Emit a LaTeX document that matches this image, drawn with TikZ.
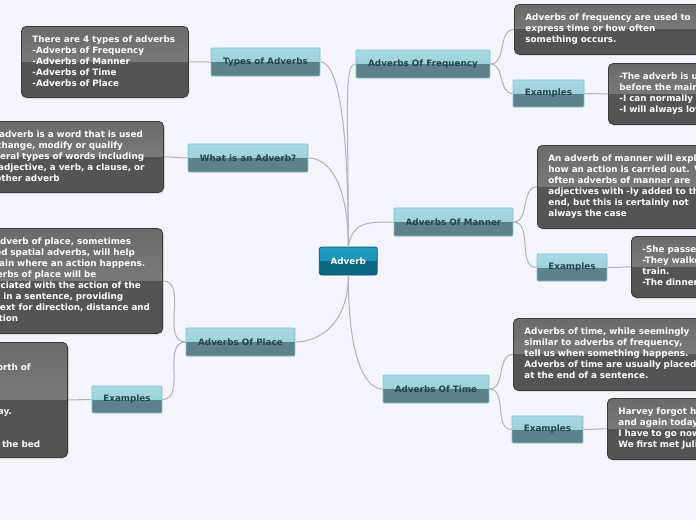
\documentclass[tikz,border=0pt]{standalone}
\usepackage{fontspec}
\setmainfont{DejaVu Sans}
\usetikzlibrary{shadows}
\definecolor{bg}{HTML}{F3F4FC}
\definecolor{conncol}{HTML}{B3B3B3}
\definecolor{boxtopa}{HTML}{6A6A6A}
\definecolor{boxtopb}{HTML}{888888}
\definecolor{boxbot}{HTML}{545454}
\definecolor{boxline}{HTML}{3A3A3A}
\definecolor{brtopa}{HTML}{A8DAE5}
\definecolor{brtopb}{HTML}{92C9D5}
\definecolor{brbot}{HTML}{5D8189}
\definecolor{brline}{HTML}{86BFCC}
\definecolor{brtext}{HTML}{27424A}
\definecolor{ctopa}{HTML}{22A0C2}
\definecolor{ctopb}{HTML}{1689AB}
\definecolor{cbot}{HTML}{0B6780}
\definecolor{cline}{HTML}{0A566C}
\tikzset{
  twotone/.style n args={3}{path picture={
    \shade[sharp corners, top color=#1, bottom color=#2] ([yshift=1pt]path picture bounding box.north west) rectangle ([xshift=1pt]path picture bounding box.east);
    \fill[sharp corners, #3] ([xshift=-1pt]path picture bounding box.west) rectangle ([yshift=-1pt]path picture bounding box.south east);}},
  mapfont/.style={font=\fontsize{8.8}{11}\selectfont\bfseries},
  tbox/.style={draw=boxline, line width=0.8pt, rounded corners=5pt,
    twotone={boxtopa}{boxtopb}{boxbot}, text=white, mapfont, align=left,
    inner xsep=11pt, inner ysep=0pt, anchor=north west,
    drop shadow={shadow xshift=1pt, shadow yshift=-1.5pt, opacity=0.2}},
  frag/.style={text=white, mapfont, inner sep=0pt, anchor=base east},
  brnode/.style={draw=brline, line width=0.8pt, rounded corners=1pt,
    twotone={brtopa}{brtopb}{brbot}, text=brtext, mapfont,
    minimum height=28pt, inner sep=0pt},
  cnode/.style={draw=cline, line width=0.8pt, rounded corners=2.5pt,
    twotone={ctopa}{ctopb}{cbot}, text=white, mapfont,
    minimum height=28pt, minimum width=58pt, inner sep=0pt},
  conn/.style={draw=conncol, line width=1pt},
}
\begin{document}
\begin{tikzpicture}[x=1pt, y=-1pt]
\useasboundingbox (0,0) rectangle (696,520);
\clip (0,0) rectangle (696,520);
\fill[bg] (0,0) rectangle (696,520);

% centre and branches
\node[cnode] (adverb) at (348.3,261) {Adverb};
\node[brnode, minimum width=109pt] (types) at (265.5,62) {Types of Adverbs};
\node[brnode, minimum width=120pt] (what) at (248,158) {What is an Adverb?};
\node[brnode, minimum width=109pt] (place) at (240.5,342) {Adverbs Of Place};
\node[brnode, minimum width=70pt, minimum height=27pt] (placeex) at (127,399.5) {Examples};
\node[brnode, minimum width=134pt] (freq) at (423,64) {Adverbs Of Frequency};
\node[brnode, minimum width=71pt, minimum height=27pt] (freqex) at (548.5,93.5) {Examples};
\node[brnode, minimum width=119pt] (manner) at (453.5,222) {Adverbs Of Manner};
\node[brnode, minimum width=70pt, minimum height=27pt] (mannerex) at (572,267.5) {Examples};
\node[brnode, minimum width=106pt] (time) at (436,389) {Adverbs Of Time};
\node[brnode, minimum width=71pt, minimum height=27pt] (timeex) at (547.5,429.5) {Examples};

% text boxes
\node[tbox, text width=145pt, minimum height=71pt] (typesbox) at (21,26)
 {\begin{tabular}{@{}l@{}}There are 4 types of adverbs\\-Adverbs of Frequency\\-Adverbs of Manner\\-Adverbs of Time\\-Adverbs of Place\end{tabular}};
\node[tbox, anchor=north east, text width=169.5pt, minimum height=71pt] (whatbox) at (164,121)
 {\begin{tabular}{@{}l@{}}An adverb is a word that is used\\to change, modify or qualify\\several types of words including\\an adjective, a verb, a clause, or\\another adverb\end{tabular}};
\node[tbox, anchor=north east, text width=173.5pt, minimum height=105pt] (placebox) at (163,228)
 {\begin{tabular}{@{}l@{}}An adverb of place, sometimes\\called spatial adverbs, will help\\explain where an action happens.\\Adverbs of place will be\\associated with the action of the\\verb in a sentence, providing\\context for direction, distance and\\position\end{tabular}};
\node[tbox, anchor=north east, text width=178pt, minimum height=115pt] (placeexbox) at (68,342) {};
\node[frag] (pf1) at (31,370) {north of};
\node[frag] (pf2) at (12,414) {away.};
\node[frag] (pf3) at (40.3,447) {under the bed};
\node[tbox, text width=200pt, minimum height=50pt] (freqbox) at (514,4)
 {\begin{tabular}{@{}l@{}}Adverbs of frequency are used to\\express time or how often\\something occurs.\end{tabular}};
\node[tbox, text width=200pt, minimum height=61pt] (freqexbox) at (608,63)
 {\begin{tabular}{@{}l@{}}-The adverb is usually placed\\before the main verb.\\-I can normally swim.\\-I will always love you.\end{tabular}};
\node[tbox, text width=200pt, minimum height=83pt] (mannerbox) at (537,145)
 {\begin{tabular}{@{}l@{}}An adverb of manner will explain\\how an action is carried out. Very\\often adverbs of manner are\\adjectives with -ly added to the\\end, but this is certainly not\\always the case\end{tabular}};
\node[tbox, text width=200pt, minimum height=61pt] (mannerexbox) at (631,236)
 {\begin{tabular}{@{}l@{}}-She passed the exam easily.\\-They walked quickly to the\\train.\\-The dinner smelled good.\end{tabular}};
\node[tbox, text width=200pt, minimum height=72pt] (timebox) at (513,318)
 {\begin{tabular}{@{}l@{}}Adverbs of time, while seemingly\\similar to adverbs of frequency,\\tell us when something happens.\\Adverbs of time are usually placed\\at the end of a sentence.\end{tabular}};
\node[tbox, text width=200pt, minimum height=61pt] (timeexbox) at (607,398)
 {\begin{tabular}{@{}l@{}}Harvey forgot his lunch again\\and again today.\\I have to go now.\\We first met Julie last year.\end{tabular}};

% connectors from centre
\draw[conn] (adverb.north) .. controls +(0,-140) and +(15,0) .. (types.east);
\draw[conn] (adverb.north) .. controls +(0,-60) and +(22,0) .. (what.east);
\draw[conn] (adverb.north) .. controls +(0,-140) and +(-12,0) .. (freq.west);
\draw[conn] (adverb.north) .. controls +(4,-25) and +(-25,0) .. (manner.west);
\draw[conn] (adverb.south) .. controls +(0,90) and +(-15,0) .. (time.west);
\draw[conn] (adverb.south) .. controls +(0,50) and +(22,0) .. (place.east);
% child connectors
\draw[conn] (types.west) to[out=180,in=0] (typesbox.east);
\draw[conn] (what.west) to[out=180,in=0] (whatbox.east);
\draw[conn] (place.west) to[out=180,in=0] (placebox.east);
\draw[conn] (place.west) to[out=180,in=0] (placeex.east);
\draw[conn] (placeex.west) to[out=180,in=0] (placeexbox.east);
\draw[conn] (freq.east) to[out=0,in=180] (freqbox.west);
\draw[conn] (freq.east) to[out=0,in=180] (freqex.west);
\draw[conn] (freqex.east) to[out=0,in=180] (freqexbox.west);
\draw[conn] (manner.east) to[out=0,in=180] (mannerbox.west);
\draw[conn] (manner.east) to[out=0,in=180] (mannerex.west);
\draw[conn] (mannerex.east) to[out=0,in=180] (mannerexbox.west);
\draw[conn] (time.east) to[out=0,in=180] (timebox.west);
\draw[conn] (time.east) to[out=0,in=180] (timeex.west);
\draw[conn] (timeex.east) to[out=0,in=180] (timeexbox.west);
\end{tikzpicture}
\end{document}
